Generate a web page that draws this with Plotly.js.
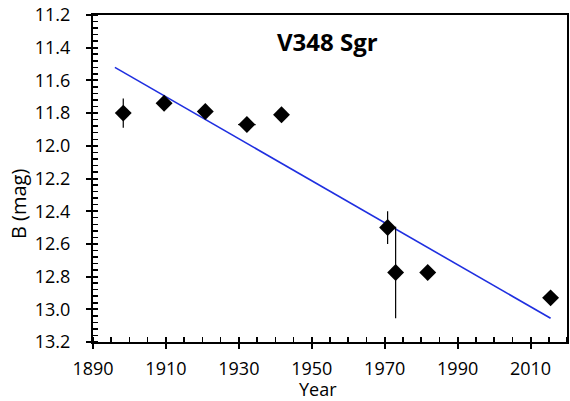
<!DOCTYPE html>
<html>
<head>
<meta charset="utf-8">
<script src="https://cdn.plot.ly/plotly-3.0.1.min.js"></script>
<style>html,body{margin:0;padding:0;background:#fff;}#chart{width:570px;height:401px;}</style>
</head>
<body>
<div id="chart"></div>
<script>
// Observations
const years = [1898.3, 1909.5, 1920.8, 1932.2, 1941.7, 1970.8, 1973.0, 1981.8, 2015.5];
const bmag = [11.80, 11.74, 11.79, 11.87, 11.81, 12.50, 12.775, 12.775, 12.93];
const magErr = [0.09, 0.01, 0.01, 0.0, 0.01, 0.10, 0.28, 0.0, 0.0];
const yearErr = [1.5, 2.0, 1.0, 2.4, 1.5, 0.0, 0.0, 0.0, 0.0];
// Linear trend
const trendYears = [1896, 2015.5];
const trendMag = [11.52, 13.055];
const xTicks = [1890, 1910, 1930, 1950, 1970, 1990, 2010];
const yTicks = [11.2, 11.4, 11.6, 11.8, 12.0, 12.2, 12.4, 12.6, 12.8, 13.0, 13.2];
const chartTitle = 'V348 Sgr';
const xTitle = 'Year';
const yTitle = 'B (mag)';

const font = "Open Sans, Lato, sans-serif";
const traces = [
  {x: trendYears, y: trendMag, mode: 'lines', line: {color: '#1f2fe0', width: 1.6}, hoverinfo: 'skip'},
  {x: years, y: bmag, mode: 'markers',
   marker: {symbol: 'diamond', size: 13, color: '#000'},
   error_y: {type: 'data', array: magErr, visible: true, color: '#000', thickness: 1.2, width: 0},
   error_x: {type: 'data', array: yearErr, visible: true, color: '#000', thickness: 1.2, width: 0}}
];
const layout = {
  width: 570, height: 401,
  margin: {l: 93, r: 3, t: 15, b: 59},
  paper_bgcolor: '#fff', plot_bgcolor: '#fff',
  showlegend: false,
  font: {family: font, color: '#000', size: 18},
  xaxis: {
    range: [1890, 2020], tickvals: xTicks, ticktext: xTicks.map(String),
    ticks: 'outside', ticklen: 5, tickwidth: 2, tickcolor: '#000',
    showline: true, linecolor: '#000', linewidth: 2, mirror: true,
    showgrid: false, zeroline: false, ticklabelstandoff: 4,
    minor: {dtick: 5, ticks: 'inside', ticklen: 5, tickwidth: 1.5, tickcolor: '#000', showgrid: false},
    tickfont: {family: font, size: 18}
  },
  yaxis: {
    range: [13.2, 11.2], tickvals: yTicks, ticktext: yTicks.map(v => v.toFixed(1)),
    ticks: 'outside', ticklen: 5, tickwidth: 2, tickcolor: '#000',
    showline: true, linecolor: '#000', linewidth: 2, mirror: true,
    showgrid: false, zeroline: false, ticklabelstandoff: 12,
    minor: {dtick: 0.04, ticks: 'inside', ticklen: 5, tickwidth: 1.5, tickcolor: '#000', showgrid: false},
    tickfont: {family: font, size: 18}
  },
  xaxis2: {overlaying: 'x', matches: 'x', range: [1890, 2020], tickvals: xTicks, ticks: 'inside', ticklen: 5, tickwidth: 2, tickcolor: '#000', showticklabels: false, showgrid: false, zeroline: false, showline: false, side: 'bottom'},
  yaxis2: {overlaying: 'y', matches: 'y', range: [13.2, 11.2], tickvals: yTicks, ticks: 'inside', ticklen: 5, tickwidth: 2, tickcolor: '#000', showticklabels: false, showgrid: false, zeroline: false, showline: false, side: 'left'},
  annotations: [
    {text: '<b>' + chartTitle + '</b>', xref: 'x', yref: 'y', x: 1954.2, y: 11.365,
     showarrow: false, font: {family: font, size: 24, color: '#000'}},
    {text: xTitle, xref: 'paper', yref: 'paper', x: 0.4747, y: -0.1437, xanchor: 'center', yanchor: 'middle',
     showarrow: false, font: {family: font, size: 18, color: '#000'}},
    {text: yTitle, xref: 'paper', yref: 'paper', x: -0.158, y: 0.422, xanchor: 'center', yanchor: 'middle',
     textangle: -90, showarrow: false, font: {family: font, size: 20, color: '#000'}}
  ]
};
traces.push({x: [1890], y: [13.2], xaxis: 'x2', yaxis: 'y2', mode: 'markers', marker: {opacity: 0}, hoverinfo: 'skip'});
Plotly.newPlot('chart', traces, layout, {displayModeBar: false, staticPlot: true});
</script>
</body>
</html>
